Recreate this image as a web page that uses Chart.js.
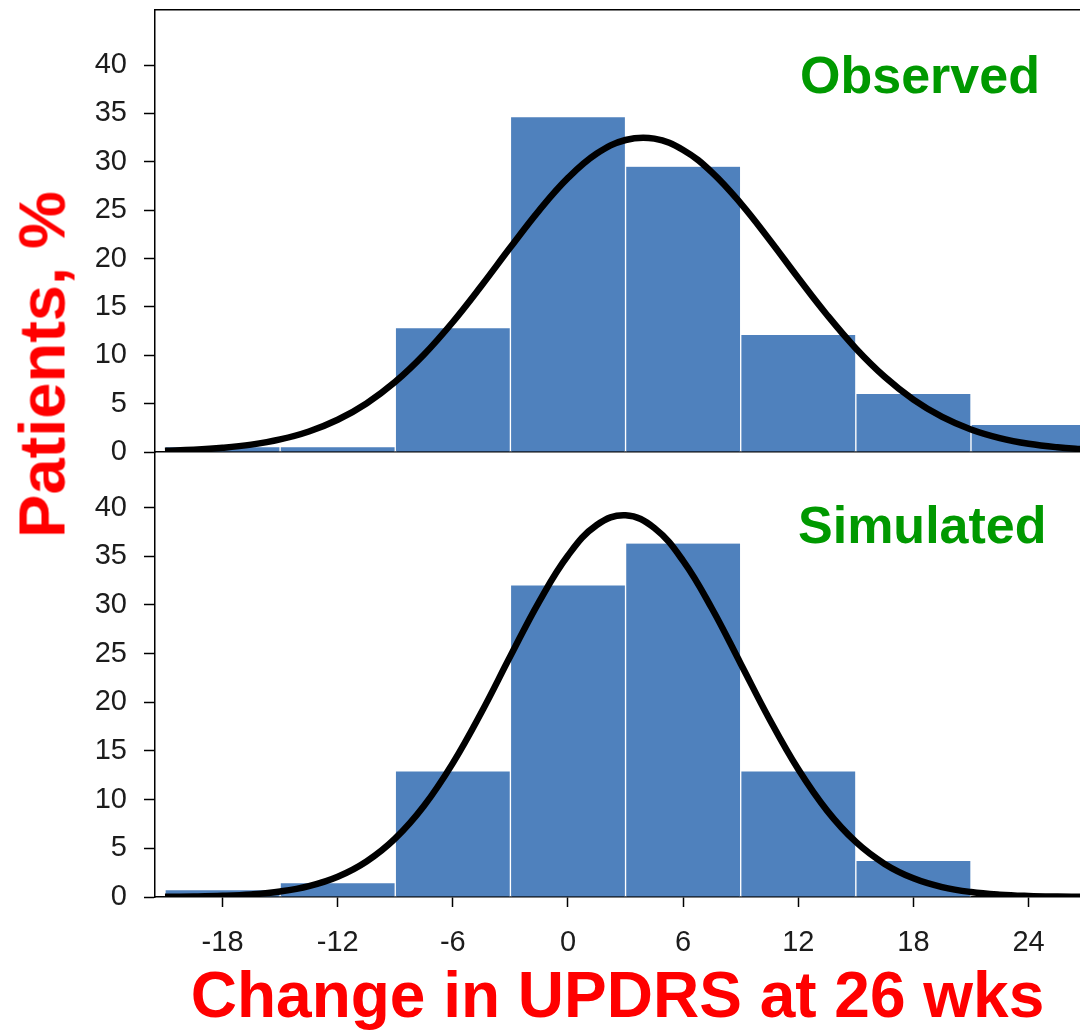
<!DOCTYPE html>
<html>
<head>
<meta charset="utf-8">
<script src="https://cdn.jsdelivr.net/npm/chart.js@4/dist/chart.umd.min.js"></script>
<style>
  html, body { margin: 0; padding: 0; background: #ffffff; }
  body { width: 1080px; height: 1034px; position: relative; overflow: hidden; font-family: 'Liberation Sans', Arial, sans-serif; }
  canvas { position: absolute; left: 0; }
  #cTop { top: 0; }
  #cBot { top: 442px; }
  .lbl { position: absolute; font-weight: bold; white-space: nowrap; }
  #panelObs { left: 800px; top: 49px; font-size: 52px; line-height: 52px; color: #009900; }
  #panelSim { left: 798px; top: 499px; font-size: 52px; line-height: 52px; color: #009900; }
  #ytitle { left: -158px; top: 332px; width: 400px; height: 65px; font-size: 65px; line-height: 65px; color: #ff0000; text-align: center; transform: rotate(-90deg); transform-origin: 50% 50%; }
</style>
</head>
<body>
<canvas id="cBot" width="1080" height="592"></canvas>
<canvas id="cTop" width="1080" height="470"></canvas>
<div class="lbl" id="panelObs">Observed</div>
<div class="lbl" id="panelSim">Simulated</div>
<div class="lbl" id="ytitle">Patients, %</div>
<script>
// ---- data ----
const binCenters = [-18, -12, -6, 0, 6, 12, 18, 24];
const observedPct = [0.5, 0.5, 12.8, 34.6, 29.5, 12.1, 6.0, 2.8];
const simulatedPct = [0.7, 1.4, 12.9, 32.0, 36.3, 12.9, 3.7, 0];
const curveX = [-21, -19.5, -18, -16.5, -15, -13.5, -12, -10.5, -9, -7.5, -6, -4.5, -3, -1.5, 0, 1.5, 3, 4.5, 6, 7.5, 9, 10.5, 12, 13.5, 15, 16.5, 18, 19.5, 21, 22.5, 24, 25.5, 27];
const observedFit = [0.12, 0.23, 0.43, 0.76, 1.30, 2.12, 3.33, 5.02, 7.26, 10.08, 13.44, 17.21, 21.16, 24.99, 28.34, 30.86, 32.26, 32.4, 31.23, 28.92, 25.71, 21.95, 17.99, 14.17, 10.71, 7.78, 5.42, 3.63, 2.33, 1.44, 0.85, 0.49, 0.27];
const simulatedFit = [0.02, 0.05, 0.12, 0.27, 0.57, 1.12, 2.08, 3.65, 6.02, 9.37, 13.75, 19.0, 24.74, 30.34, 35.07, 38.2, 39.2, 37.89, 34.52, 29.63, 23.96, 18.26, 13.11, 8.87, 5.65, 3.40, 1.92, 1.02, 0.51, 0.24, 0.11, 0.05, 0.02];
const xTicks = [-18, -12, -6, 0, 6, 12, 18, 24];
const yTicks = [0, 5, 10, 15, 20, 25, 30, 35, 40];
const xTitle = 'Change in UPDRS at 26 wks';

// ---- config ----
const X_MIN = -21.52, X_MAX = 26.68, Y_MAX = 45.7;
const FONT = "'Liberation Sans', Arial, sans-serif";
const BAR_COLOR = '#4F81BD';
const TICK_FONT = { family: FONT, size: 29 };
const TICK_COLOR = '#1c1c1c';

function datasets(bars, fit) {
  return [
    {
      type: 'line',
      data: curveX.map((x, i) => ({ x: x, y: fit[i] })),
      borderColor: '#000000',
      borderWidth: 6.5,
      pointRadius: 0,
      tension: 0.4,
      fill: false,
      order: 0
    },
    {
      type: 'bar',
      data: binCenters.map((x, i) => ({ x: x, y: bars[i] })),
      backgroundColor: BAR_COLOR,
      borderColor: '#ffffff',
      borderWidth: { left: 1, right: 1, top: 0, bottom: 0 },
      borderSkipped: false,
      barPercentage: 1,
      categoryPercentage: 1,
      order: 1
    }
  ];
}

function yAxis() {
  return {
    type: 'linear',
    min: 0, max: Y_MAX,
    afterBuildTicks: s => { s.ticks = yTicks.map(v => ({ value: v })); },
    afterFit: s => { s.width = 155; s.paddingTop = 0; s.paddingBottom = 0; },
    ticks: { font: TICK_FONT, color: TICK_COLOR, padding: 17, callback: v => String(v) },
    grid: { display: true, drawOnChartArea: false, drawTicks: true, tickLength: 11, tickColor: '#000', tickWidth: 1.5 },
    border: { display: true, color: '#000', width: 1.5 }
  };
}

const common = {
  responsive: false,
  animation: false,
  devicePixelRatio: 1,
  plugins: { legend: { display: false }, tooltip: { enabled: false }, title: { display: false } }
};

// Top panel (Observed)
new Chart(document.getElementById('cTop'), {
  data: { datasets: datasets(observedPct, observedFit) },
  options: Object.assign({}, common, {
    layout: { padding: { top: 10, left: 0, right: 0, bottom: 18 } },
    scales: {
      x: {
        type: 'linear', position: 'bottom', min: X_MIN, max: X_MAX, offset: false,
        afterFit: s => { s.height = 0; s.paddingLeft = 0; s.paddingRight = 0; },
        ticks: { display: false },
        grid: { display: false, offset: false },
        border: { display: true, color: '#000', width: 1.5 }
      },
      xTop: {
        type: 'linear', position: 'top', min: X_MIN, max: X_MAX, offset: false,
        afterFit: s => { s.height = 0; s.paddingLeft = 0; s.paddingRight = 0; },
        ticks: { display: false },
        grid: { display: false, offset: false },
        border: { display: true, color: '#000', width: 1.5 }
      },
      y: yAxis()
    }
  })
});

// Bottom panel (Simulated)
new Chart(document.getElementById('cBot'), {
  data: { datasets: datasets(simulatedPct, simulatedFit) },
  options: Object.assign({}, common, {
    layout: { padding: { top: 10, left: 0, right: 0, bottom: 0 } },
    scales: {
      x: {
        type: 'linear', position: 'bottom', min: X_MIN, max: X_MAX, offset: false,
        afterBuildTicks: s => { s.ticks = xTicks.map(v => ({ value: v })); },
        afterFit: s => { s.height = 137; s.paddingLeft = 0; s.paddingRight = 0; },
        ticks: { font: TICK_FONT, color: TICK_COLOR, padding: 19, autoSkip: false, maxRotation: 0, callback: v => String(v) },
        grid: { display: true, offset: false, drawOnChartArea: false, drawTicks: true, tickLength: 10, tickColor: '#000', tickWidth: 1.5 },
        border: { display: true, color: '#000', width: 1.5 },
        title: {
          display: true, text: xTitle, color: '#ff0000',
          font: { family: FONT, size: 64, weight: 'bold', lineHeight: 1 },
          padding: { top: 0, bottom: 3 }
        }
      },
      y: yAxis()
    }
  })
});
</script>
</body>
</html>
